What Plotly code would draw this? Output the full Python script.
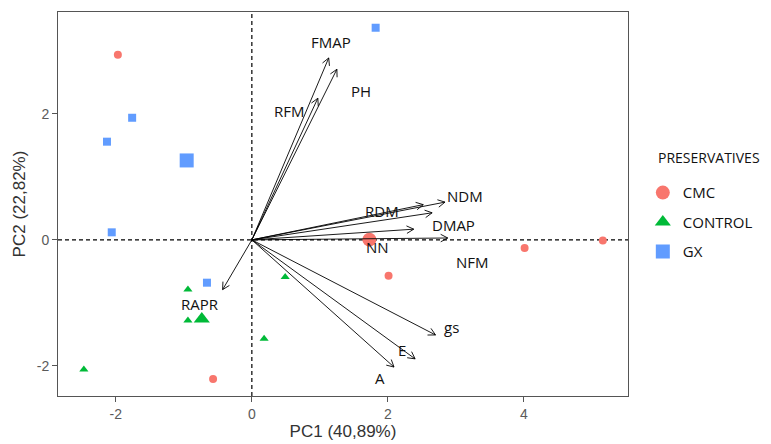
import numpy as np
import plotly.graph_objects as go

# ---------------- data ----------------
groups = ["CMC", "CONTROL", "GX"]
colors = {"CMC": "#F8766D", "CONTROL": "#00BA38", "GX": "#619CFF"}
symbols = {"CMC": "circle", "CONTROL": "triangle-up", "GX": "square"}

cmc_x = [-1.97, 2.01, 4.01, 5.16, -0.57]
cmc_y = [2.94, -0.57, -0.13, -0.01, -2.21]
control_x = [-2.47, -0.94, -0.94, 0.18, 0.49]
control_y = [-2.06, -0.79, -1.28, -1.57, -0.59]
gx_x = [1.82, -1.76, -2.13, -2.06, -0.66]
gx_y = [3.37, 1.94, 1.56, 0.12, -0.68]

points = {"CMC": (cmc_x, cmc_y), "CONTROL": (control_x, control_y), "GX": (gx_x, gx_y)}

var_names = ["FMAP", "PH", "RFM", "NDM", "RDM", "DMAP", "NN", "NFM", "gs", "E", "A", "RAPR"]
var_x = [1.13, 1.25, 0.97, 2.84, 2.52, 2.65, 2.38, 2.88, 2.70, 2.40, 2.09, -0.43]
var_y = [2.89, 2.71, 2.25, 0.60, 0.56, 0.43, 0.17, 0.03, -1.51, -1.89, -2.02, -0.79]
label_x = [1.16, 1.60, 0.56, 3.13, 1.91, 2.96, 1.85, 3.24, 2.94, 2.20, 1.88, -0.76]
label_y = [3.14, 2.37, 2.05, 0.70, 0.46, 0.24, -0.11, -0.35, -1.38, -1.75, -2.19, -1.02]

x_ticks = [-2, 0, 2, 4]
y_ticks = [-2, 0, 2]
x_range = [-2.85, 5.53]
y_range = [-2.48, 3.62]

# ---------------- figure ----------------
fig = go.Figure()

# page body has an 8px default margin, so the figure is sized to fit inside
W, H = 763, 436
margin = dict(l=50, r=143, t=4, b=48)
pw = W - margin["l"] - margin["r"]
ph = H - margin["t"] - margin["b"]
sx = pw / (x_range[1] - x_range[0])
sy = ph / (y_range[1] - y_range[0])

# individual points
for g in groups:
    xs, ys = points[g]
    fig.add_trace(go.Scatter(
        x=xs, y=ys, mode="markers", showlegend=False,
        marker=dict(color=colors[g], symbol=symbols[g], size=8,
                    line=dict(width=0)),
    ))
# group means
for g in groups:
    xs, ys = points[g]
    fig.add_trace(go.Scatter(
        x=[float(np.mean(xs))], y=[float(np.mean(ys))], mode="markers",
        showlegend=False,
        marker=dict(color=colors[g], symbol=symbols[g], size=14,
                    line=dict(width=0)),
    ))

# arrows: shafts + open heads computed in pixel space
ax_, ay_ = [], []
head_len = 8.0
ang = np.deg2rad(28)
for vx, vy in zip(var_x, var_y):
    ax_ += [0, vx, None]
    ay_ += [0, vy, None]
    px, py = vx * sx, vy * sy
    L = np.hypot(px, py)
    ux, uy = px / L, py / L
    for s in (+1, -1):
        c, sn = np.cos(s * ang), np.sin(s * ang)
        rx = -(ux * c - uy * sn) * head_len
        ry = -(ux * sn + uy * c) * head_len
        ax_ += [vx, vx + rx / sx, None]
        ay_ += [vy, vy + ry / sy, None]
fig.add_trace(go.Scatter(x=ax_, y=ay_, mode="lines", showlegend=False,
                         line=dict(color="black", width=0.9), hoverinfo="skip"))

# legend-only traces
for g in groups:
    fig.add_trace(go.Scatter(
        x=[None], y=[None], mode="markers", name=g, legendgroup=g,
        marker=dict(color=colors[g], symbol=symbols[g], size=14, line=dict(width=0)),
    ))

for name, lx, ly in zip(var_names, label_x, label_y):
    fig.add_annotation(x=lx, y=ly, text=name, showarrow=False,
                       font=dict(family="Open Sans, Liberation Sans, sans-serif", size=15, color="#111111"))

# legend title
fig.add_annotation(x=1.049, y=0.620, xref="paper", yref="paper", xanchor="left", yanchor="middle",
                   text="PRESERVATIVES", showarrow=False,
                   font=dict(family="Open Sans, Liberation Sans, sans-serif", size=14, color="#111111"))

fig.add_shape(type="line", x0=0, x1=0, y0=y_range[0], y1=y_range[1], xref="x", yref="y",
              line=dict(color="black", width=1.2, dash="4px,3px"), layer="below")
fig.add_shape(type="line", x0=x_range[0], x1=x_range[1], y0=0, y1=0, xref="x", yref="y",
              line=dict(color="black", width=1.2, dash="4px,3px"), layer="below")

axis_common = dict(showgrid=False, zeroline=False, showline=True, mirror=True,
                   linecolor="#555555", linewidth=1, ticks="outside", ticklen=5,
                   tickcolor="#555555", automargin=False,
                   tickfont=dict(family="Liberation Sans, Arial, sans-serif", size=14, color="#5a5a5a"))

fig.update_layout(
    width=W, height=H, margin=margin,
    plot_bgcolor="white", paper_bgcolor="white",
    xaxis=dict(range=x_range, tickvals=x_ticks, ticktext=[str(t) for t in x_ticks],
               title=dict(text="PC1 (40,89%)", standoff=2,
                          font=dict(family="Liberation Sans, Arial, sans-serif", size=17, color="#333333")),
               **axis_common),
    yaxis=dict(range=y_range, tickvals=y_ticks, ticktext=[str(t) for t in y_ticks],
               title=dict(text="PC2 (22,82%)", standoff=6,
                          font=dict(family="Liberation Sans, Arial, sans-serif", size=17, color="#333333")),
               **axis_common),
    legend=dict(x=1.026, y=0.572, xanchor="left", yanchor="top",
                font=dict(family="Open Sans, Liberation Sans, sans-serif", size=15, color="#111111"),
                tracegroupgap=7, itemsizing="trace"),
)

fig.write_html("out.html")
